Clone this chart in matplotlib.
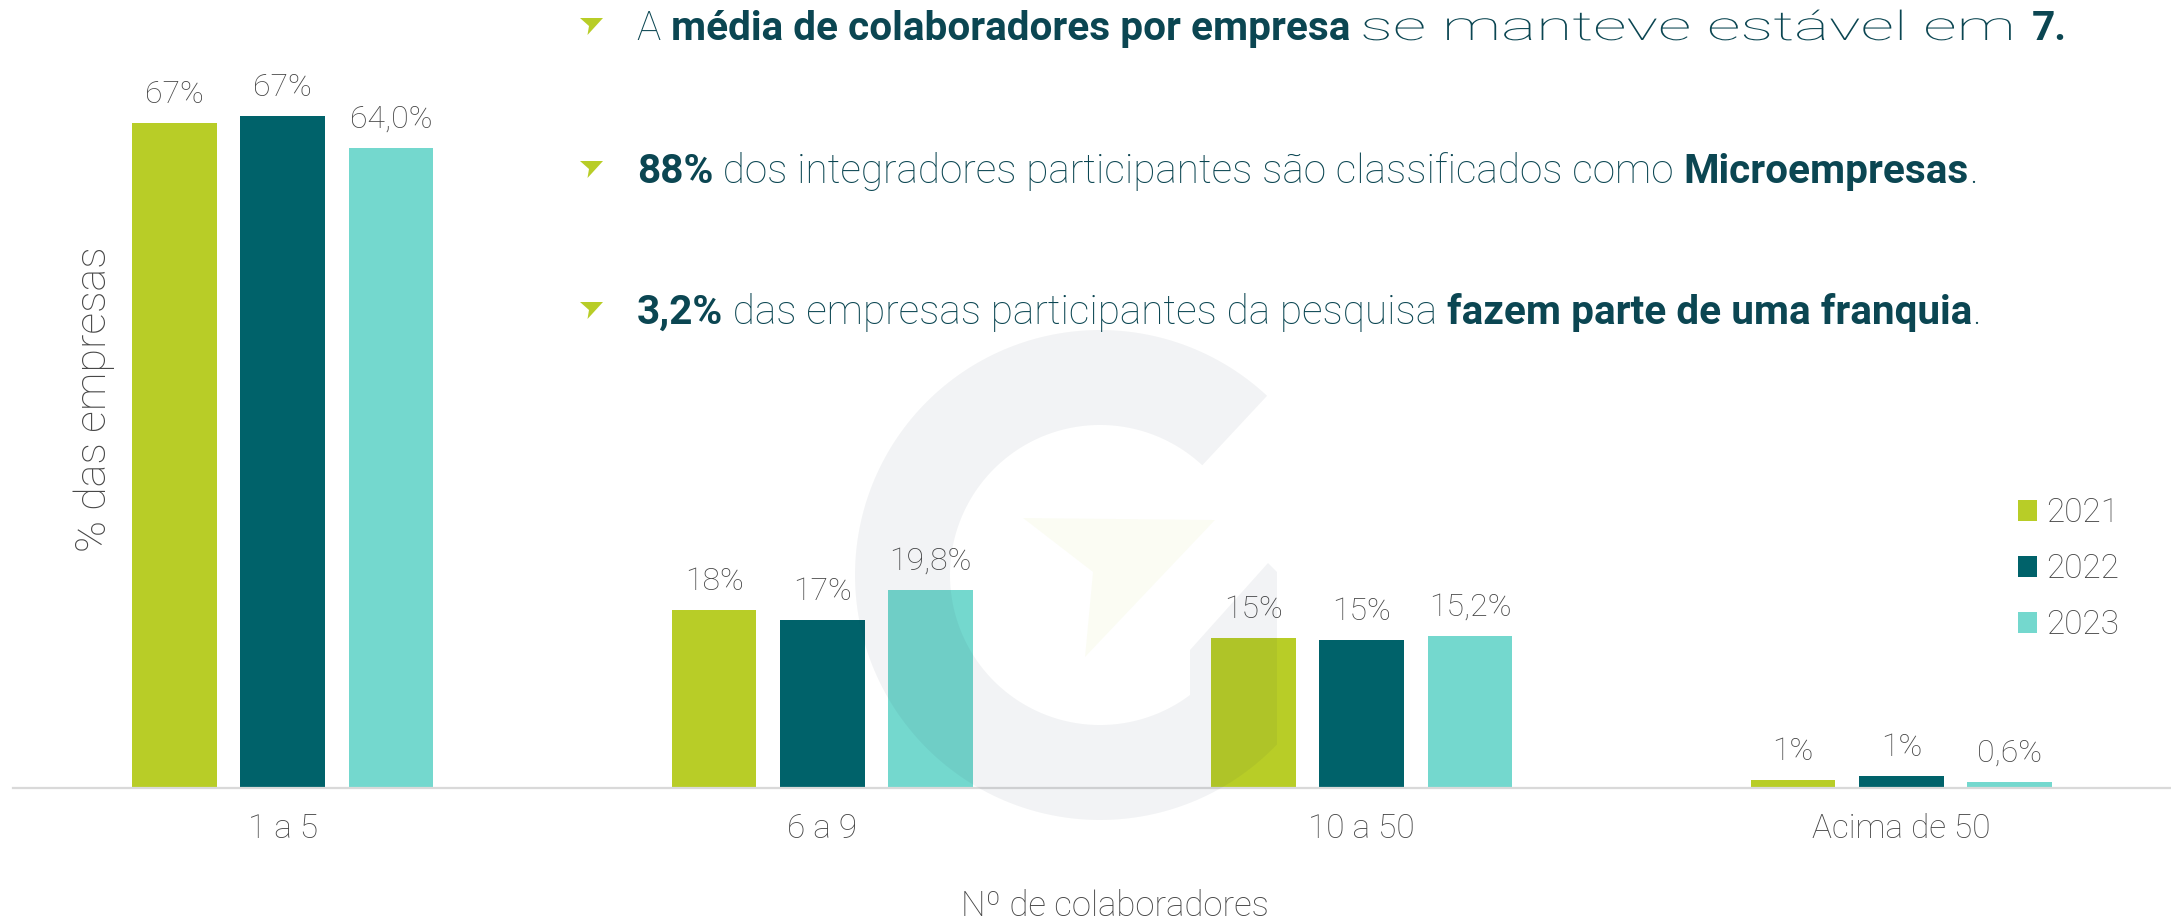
import numpy as np
import matplotlib
matplotlib.use("Agg")
import matplotlib.pyplot as plt
import matplotlib.transforms as mtransforms
from matplotlib.patches import Polygon, Patch
from matplotlib.font_manager import FontProperties
from matplotlib.patheffects import AbstractPathEffect

# ---------------- data ----------------
categories = ["1 a 5", "6 a 9", "10 a 50", "Acima de 50"]
years = ["2021", "2022", "2023"]
values_2021 = [66.5, 17.8, 15.0, 0.8]
values_2022 = [67.2, 16.8, 14.8, 1.2]
values_2023 = [64.0, 19.8, 15.2, 0.6]
labels_2021 = ["67%", "18%", "15%", "1%"]
labels_2022 = ["67%", "17%", "15%", "1%"]
labels_2023 = ["64,0%", "19,8%", "15,2%", "0,6%"]
y_label = "% das empresas"
x_label = "Nº de colaboradores"
# (text, bold, stretch-to-x): a stretched piece is widened horizontally so the next piece starts at that x
bullets = [
    [("A ", False, None), ("média de colaboradores por empresa", True, None),
     (" se manteve estável em ", False, 2032), ("7.", True, None)],
    [("88%", True, None), (" dos integradores participantes são classificados como ", False, None),
     ("Microempresas", True, None), (".", False, None)],
    [("3,2%", True, None), (" das empresas participantes da pesquisa ", False, None),
     ("fazem parte de uma franquia", True, None), (".", False, None)],
]

# ---------------- style ----------------
colors = ["#B8CD27", "#00626A", "#74D8CE"]
gray_txt = "#474747"
teal_txt = "#0B4652"
FONT = "Roboto"
plt.rcParams["font.family"] = [FONT, "DejaVu Sans"]

W, H = 2171, 921
fig = plt.figure(figsize=(W / 100, H / 100), dpi=100)
# pixel (top-left origin) -> display transform
PX = mtransforms.Affine2D().scale(1 / 100, -1 / 100).translate(0, H / 100) + fig.dpi_scale_trans

base_y = 787.7
ax = fig.add_axes([13 / W, 1 - base_y / H, 1 - 13 / W, base_y / H])

x = np.arange(len(categories))
offset = 0.2006
width = 0.157
series = [values_2021, values_2022, values_2023]
labels = [labels_2021, labels_2022, labels_2023]
for i, (vals, labs) in enumerate(zip(series, labels)):
    bars = ax.bar(x + (i - 1) * offset, vals, width, color=colors[i], label=years[i], zorder=2)
    ax.bar_label(bars, labels=labs, padding=10, fontsize=23, color=gray_txt,
                 fontweight="light", zorder=4)

ax.set_xlim(-0.5, 3.5)
ax.set_ylim(0, base_y / 10)
for s in ["top", "right", "left"]:
    ax.spines[s].set_visible(False)
ax.spines["bottom"].set_color("#D9D9D9")
ax.spines["bottom"].set_linewidth(1.6)
ax.spines["bottom"].set_zorder(5)
ax.set_yticks([])
ax.set_xticks(x, categories)
ax.tick_params(axis="x", length=0, pad=18, labelsize=24, labelcolor=gray_txt)
for t in ax.get_xticklabels():
    t.set_fontweight("light")

ax.set_ylabel(y_label, fontsize=31, color=gray_txt, fontweight="light", va="center", ha="center")
ax.yaxis.set_label_coords((94 - 13) / (W - 13), (base_y - 399) / base_y)
ax.set_xlabel(x_label, fontsize=25, color=gray_txt, fontweight="light", va="center", ha="center")
ax.xaxis.set_label_coords((1115 - 13) / (W - 13), (base_y - 906) / base_y)

# legend
handles = [Patch(facecolor=c, edgecolor="none") for c in colors]
leg = fig.legend(handles, years, loc="center left", bbox_to_anchor=(2018 / W, 1 - 569 / H),
                 frameon=False, fontsize=24, handlelength=0.58, handleheight=0.58,
                 handletextpad=0.25, labelspacing=0.72, borderpad=0, borderaxespad=0)
for t in leg.get_texts():
    t.set_color(gray_txt)
    t.set_fontweight("light")

# ---------------- watermark (decorative "G" logo) ----------------
cx, cy, ro, ri = 1100, 575, 245, 150
a_end = np.deg2rad(47)
a_out = 2 * np.pi - np.arccos((1277 - cx) / ro)
a_in = 2 * np.pi - np.arccos((1190 - cx) / ri)
t_out = np.linspace(a_end, a_out, 200)
t_in = np.linspace(a_in, a_end, 200)
outer = np.column_stack([cx + ro * np.cos(t_out), cy - ro * np.sin(t_out)])
inner = np.column_stack([cx + ri * np.cos(t_in), cy - ri * np.sin(t_in)])
spur = np.array([[1277, 572], [1268, 563], [1190, 650]])
g_pts = np.vstack([outer, spur, inner])
fig.add_artist(Polygon(g_pts, closed=True, transform=PX, facecolor="#1a2b4a",
                       alpha=0.055, edgecolor="none", zorder=3))
arrow_pts = np.array([[1023, 518], [1215, 520], [1085, 657], [1093, 572]])
fig.add_artist(Polygon(arrow_pts, closed=True, transform=PX, facecolor="#B8CD27",
                       alpha=0.05, edgecolor="none", zorder=3))


# ---------------- bullet texts ----------------
class StretchX(AbstractPathEffect):
    """Widen a text horizontally about its left origin (display x0)."""

    def __init__(self, sx, x0):
        super().__init__()
        self.sx, self.x0 = sx, x0

    def draw_path(self, renderer, gc, tpath, affine, rgbFace=None):
        a = affine + mtransforms.Affine2D().translate(-self.x0, 0).scale(self.sx, 1).translate(self.x0, 0)
        renderer.draw_path(gc, tpath, a, rgbFace)


renderer = fig.canvas.get_renderer()
FS = 29.2


def props(bold):
    return FontProperties(family=[FONT, "DejaVu Sans"], weight="bold" if bold else "light", size=FS)


def width_of(txt, bold):
    if not txt.strip():
        return 0.0
    w, _, _ = renderer.get_text_width_height_descent(txt, props(bold), ismath=False)
    return w


def put(xp, yp, txt, bold, **kw):
    return fig.text(xp, yp, txt, transform=PX, ha="left", va="baseline",
                    fontproperties=props(bold), color=teal_txt, zorder=6, **kw)


space_w = width_of("x x", False) - width_of("xx", False)
baselines = [40, 183, 324]
for line, by in zip(bullets, baselines):
    tri = np.array([[580, by - 22], [603, by - 22], [587.5, by - 5], [589, by - 14]])
    fig.add_artist(Polygon(tri, closed=True, transform=PX, facecolor="#B8CD27",
                           edgecolor="none", zorder=6))
    cur = 637.0
    for txt, bold, stretch_to in line:
        if stretch_to is None:
            put(cur, by, txt, bold)
            cur += width_of(txt, bold)
        else:
            core = txt.strip()
            start = cur + (space_w if txt.startswith(" ") else 0)
            natural = width_of(core, bold) + (space_w if txt.endswith(" ") else 0)
            sx = (stretch_to - start) / natural
            put(start, by, core, bold, path_effects=[StretchX(sx, start)])
            cur = stretch_to

fig.savefig("out.png", dpi=100)
